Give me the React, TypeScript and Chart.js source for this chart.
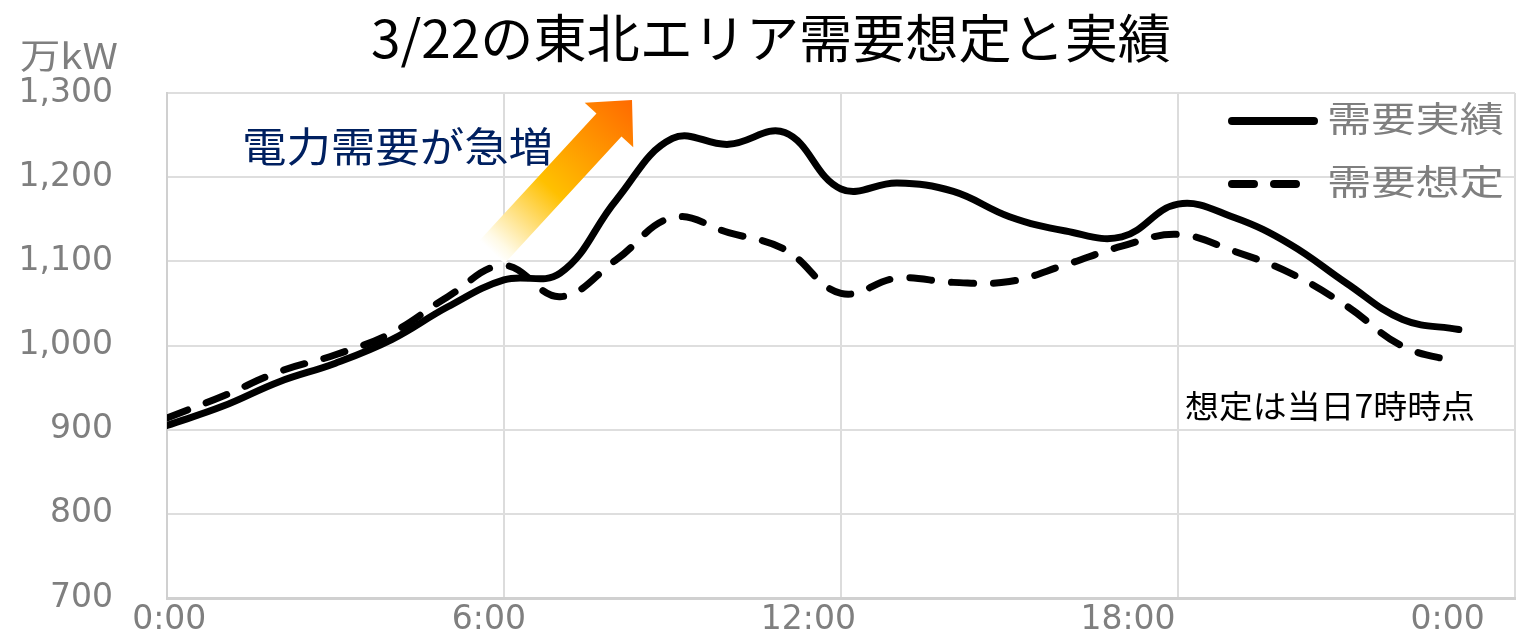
import { useEffect, useRef } from "react";
import { Chart, registerables } from "chart.js";

Chart.register(...registerables);

// Hourly demand for the Tohoku area on 3/22 (万kW)
const HOURS = [0, 1, 2, 3, 4, 5, 6, 7, 8, 9, 10, 11, 12, 13, 14, 15, 16, 17, 18, 19, 20, 21, 22, 23];
const ACTUAL = [905, 928, 957, 979, 1007, 1046, 1078, 1086, 1173, 1246, 1239, 1253, 1186, 1193, 1183, 1153, 1136, 1129, 1168, 1152, 1120, 1074, 1031, 1019];
const FORECAST = [914, 940, 969, 989, 1015, 1058, 1095, 1058, 1102, 1152, 1134, 1114, 1062, 1080, 1075, 1076, 1096, 1118, 1132, 1112, 1086, 1047, 999, 980];

const SERIES_LABELS = ["需要実績", "需要想定"];

// x axis: vertical grid every 6 hours, time labels spaced evenly along the bottom
const GRID_HOURS = [0, 6, 12, 18, 24];
const LABEL_HOURS = [0.04, 5.73, 11.42, 17.11, 22.8];
const X_LABELS = ["0:00", "6:00", "12:00", "18:00", "0:00"];

const Y_MIN = 700;
const Y_MAX = 1300;
const Y_STEP = 100;

const TITLE = "3/22の東北エリア需要想定と実績";
const UNIT = "万kW";
const CALLOUT = "電力需要が急増";
const NOTE = "想定は当日7時時点";

const JP_FONT = '"Noto Sans CJK JP", "Noto Sans", sans-serif';
const TICK_FONT = '"DejaVu Sans", sans-serif';
const GRAY = "#7f7f7f";

function drawFitted(
  ctx: CanvasRenderingContext2D,
  text: string,
  left: number,
  cy: number,
  width: number,
  font: string,
  color: string
) {
  ctx.save();
  ctx.font = font;
  ctx.fillStyle = color;
  ctx.textBaseline = "middle";
  ctx.textAlign = "left";
  const w = ctx.measureText(text).width;
  ctx.translate(left, cy);
  ctx.scale(width / w, 1);
  ctx.fillText(text, 0, 0);
  ctx.restore();
}

const decorPlugin = {
  id: "decor",
  beforeDatasetsDraw(chart: any) {
    // rising-demand arrow, fading out toward its tail
    const ctx: CanvasRenderingContext2D = chart.ctx;
    const T = { x: 492, y: 252 };
    const P = { x: 632, y: 100 };
    const dx = P.x - T.x;
    const dy = P.y - T.y;
    const len = Math.hypot(dx, dy);
    const u = { x: dx / len, y: dy / len };
    const n = { x: -u.y, y: u.x };
    const shaft = 17;
    const head = 33;
    const headLen = 34;
    const B = { x: P.x - u.x * headLen, y: P.y - u.y * headLen };
    const pts = [
      [T.x + n.x * shaft, T.y + n.y * shaft],
      [B.x + n.x * shaft, B.y + n.y * shaft],
      [B.x + n.x * head, B.y + n.y * head],
      [P.x, P.y],
      [B.x - n.x * head, B.y - n.y * head],
      [B.x - n.x * shaft, B.y - n.y * shaft],
      [T.x - n.x * shaft, T.y - n.y * shaft],
    ];
    const g = ctx.createLinearGradient(T.x, T.y, P.x, P.y);
    g.addColorStop(0, "rgba(255,255,255,1)");
    g.addColorStop(0.06, "rgba(255,250,230,1)");
    g.addColorStop(0.42, "#ffc000");
    g.addColorStop(1, "#ff6a00");
    ctx.save();
    ctx.beginPath();
    pts.forEach(([x, y], i) => (i === 0 ? ctx.moveTo(x, y) : ctx.lineTo(x, y)));
    ctx.closePath();
    ctx.fillStyle = g;
    ctx.fill();
    ctx.restore();
  },
  afterDraw(chart: any) {
    const ctx: CanvasRenderingContext2D = chart.ctx;

    drawFitted(ctx, TITLE, 371, 38, 800, `52px ${JP_FONT}`, "#000000");
    drawFitted(ctx, UNIT, 20, 56, 98, `35px ${JP_FONT}`, GRAY);
    drawFitted(ctx, CALLOUT, 242, 146, 311, `41px ${JP_FONT}`, "#002060");
    drawFitted(ctx, NOTE, 1185, 406, 290, `32px ${JP_FONT}`, "#000000");

    // legend in the upper right of the plot
    const rows = [121, 184];
    chart.data.datasets.forEach((ds: any, i: number) => {
      const y = rows[i];
      ctx.save();
      ctx.strokeStyle = ds.borderColor;
      ctx.lineWidth = 8;
      ctx.lineCap = "round";
      ctx.setLineDash(ds.borderDash || []);
      ctx.beginPath();
      ctx.moveTo(1232, y);
      ctx.lineTo(ds.borderDash && ds.borderDash.length ? 1297 : 1314, y);
      ctx.stroke();
      ctx.restore();
      drawFitted(ctx, ds.label, 1327, y - 2, 177, `35px ${JP_FONT}`, GRAY);
    });
  },
};

function isNear(list: number[], v: number) {
  return list.findIndex((h) => Math.abs(h - v) < 1e-6);
}

export default function App() {
  const ref = useRef<HTMLCanvasElement | null>(null);

  useEffect(() => {
    if (!ref.current) return;
    const tickValues = [...GRID_HOURS, ...LABEL_HOURS].sort((a, b) => a - b);

    const chart = new Chart(ref.current, {
      type: "line",
      data: {
        datasets: [
          {
            label: SERIES_LABELS[0],
            data: HOURS.map((h, i) => ({ x: h, y: ACTUAL[i] })),
            borderColor: "#000000",
            borderWidth: 7,
            tension: 0.4,
            pointRadius: 0,
            borderCapStyle: "round",
            borderJoinStyle: "round",
            fill: false,
          },
          {
            label: SERIES_LABELS[1],
            data: HOURS.map((h, i) => ({ x: h, y: FORECAST[i] })),
            borderColor: "#000000",
            borderWidth: 7,
            borderDash: [22, 20],
            tension: 0.4,
            pointRadius: 0,
            borderCapStyle: "round",
            borderJoinStyle: "round",
            fill: false,
          },
        ],
      },
      options: {
        responsive: false,
        devicePixelRatio: 1,
        animation: false,
        layout: { padding: { top: 93, right: 2, bottom: 0, left: 0 } },
        plugins: {
          legend: { display: false },
          title: { display: false },
          tooltip: { enabled: false },
        },
        scales: {
          x: {
            type: "linear",
            min: 0,
            max: 24,
            afterBuildTicks: (scale: any) => {
              scale.ticks = tickValues.map((v) => ({ value: v }));
            },
            afterFit: (scale: any) => {
              scale.height = 37;
              scale.paddingLeft = 0;
              scale.paddingRight = 0;
            },
            ticks: {
              autoSkip: false,
              maxRotation: 0,
              minRotation: 0,
              padding: 3,
              color: GRAY,
              font: { family: TICK_FONT, size: 33 },
              callback: (value: any) => {
                const i = isNear(LABEL_HOURS, Number(value));
                return i >= 0 ? X_LABELS[i] : "";
              },
            },
            grid: {
              drawTicks: false,
              lineWidth: 2,
              color: (ctx: any) =>
                ctx.tick && isNear(GRID_HOURS, ctx.tick.value) >= 0 ? "#dcdcdc" : "rgba(0,0,0,0)",
            },
            border: { display: true, color: "#d0d0d0", width: 3 },
          },
          y: {
            min: Y_MIN,
            max: Y_MAX,
            afterFit: (scale: any) => {
              scale.width = 167;
              scale.paddingTop = 0;
              scale.paddingBottom = 0;
            },
            ticks: {
              stepSize: Y_STEP,
              padding: 54,
              color: GRAY,
              font: { family: TICK_FONT, size: 33 },
              callback: (value: any) => Number(value).toLocaleString("en-US"),
            },
            grid: { drawTicks: false, lineWidth: 2, color: "#dedede" },
            border: { display: true, color: "#d0d0d0", width: 2 },
          },
        },
      },
      plugins: [decorPlugin],
    } as any);

    return () => chart.destroy();
  }, []);

  return (
    <div style={{ position: "absolute", left: 0, top: 0, width: 1517, height: 635, background: "#ffffff" }}>
      <canvas ref={ref} width={1517} height={635} />
    </div>
  );
}
